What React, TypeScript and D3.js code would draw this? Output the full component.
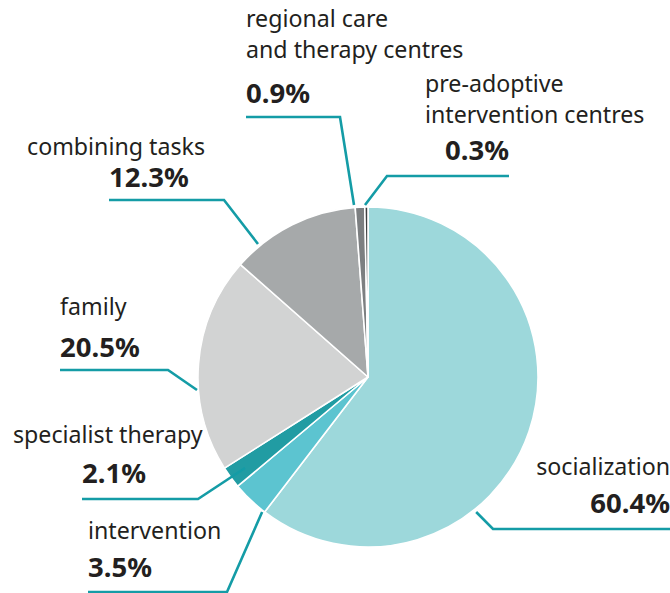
import React from "react";
import * as d3 from "d3";

const categories = [
  "socialization",
  "intervention",
  "specialist therapy",
  "family",
  "combining tasks",
  "regional care and therapy centres",
  "pre-adoptive intervention centres",
];
const values = [60.4, 3.5, 2.1, 20.5, 12.3, 0.9, 0.3];
const labelLines = [
  ["socialization"],
  ["intervention"],
  ["specialist therapy"],
  ["family"],
  ["combining tasks"],
  ["regional care", "and therapy centres"],
  ["pre-adoptive", "intervention centres"],
];
const colors = ["#9dd8db", "#5cc4d0", "#219ca3", "#d2d3d3", "#a6a9aa", "#7c7f81", "#3e3f40"];

// layout for callouts (angle in degrees clockwise from top)
const layout = [
  { ang: 141.3, r: 173, bend: [493, 529], end: 670, anchor: "end", lx: 670, ly: [475], vx: 670, vy: 513 },
  { ang: 218.1, r: 171.6, bend: [227, 592], end: 88, anchor: "start", lx: 88, ly: [539], vx: 88, vy: 577 },
  { ang: 233.5, r: 153, bend: [198, 499], end: 82, anchor: "start", lx: 13, ly: [443], vx: 82, vy: 483 },
  { ang: 265.65, r: 171.5, bend: [168, 370], end: 60, anchor: "start", lx: 60, ly: [315], vx: 60, vy: 357 },
  { ang: 320.4, r: 172.6, bend: [224, 200], end: 109, anchor: "start", lx: 27, ly: [155], vx: 109, vy: 187 },
  { ang: 355.35, r: 172.6, bend: [340, 117], end: 246, anchor: "start", lx: 246, ly: [27, 58], vx: 246, vy: 103 },
  { ang: 359.0, r: 172, bend: [387, 176], end: 509, anchor: "end", lx: 425, ly: [92, 123], vx: 509, vy: 160 },
];

const W = 670;
const H = 593;
const cx = 368;
const cy = 377;
const R = 170;
const FONT = "'Noto Sans', sans-serif";
const LINE = "#149ca6";
const TEXT = "#231f20";

export default function App() {
  const pie = d3.pie<number>().sort(null).value((d) => d);
  const arcs = pie(values);
  const arcGen = d3.arc<d3.PieArcDatum<number>>().innerRadius(0).outerRadius(R);

  return (
    <svg
      width={W}
      height={H}
      style={{ position: "absolute", left: 0, top: 0, background: "#fff" }}
      fontFamily={FONT}
    >
      <g transform={`translate(${cx},${cy})`}>
        {arcs.map((a, i) => (
          <path key={categories[i]} d={arcGen(a) || ""} fill={colors[i]} stroke="#fff" strokeWidth={1.6} strokeLinejoin="round" />
        ))}
      </g>
      {layout.map((l, i) => {
        const t = (l.ang * Math.PI) / 180;
        const ax = cx + l.r * Math.sin(t);
        const ay = cy - l.r * Math.cos(t);
        const pts: [number, number][] = [
          [ax, ay],
          [l.bend[0], l.bend[1]],
          [l.end, l.bend[1]],
        ];
        const line = d3.line()(pts) || "";
        return <path key={"l" + i} d={line} fill="none" stroke={LINE} strokeWidth={2.6} />;
      })}
      {layout.map((l, i) => (
        <g key={"t" + i}>
          {labelLines[i].map((s, j) => (
            <text
              key={j}
              x={l.lx}
              y={l.ly[j]}
              textAnchor={i === 6 ? "start" : l.anchor}
              fontSize={23.2}
              fill={TEXT}
            >
              {s}
            </text>
          ))}
          <text x={l.vx} y={l.vy} textAnchor={l.anchor} fontSize={27.5} fontWeight="bold" fill={TEXT}>
            {values[i].toFixed(1) + "%"}
          </text>
        </g>
      ))}
    </svg>
  );
}
